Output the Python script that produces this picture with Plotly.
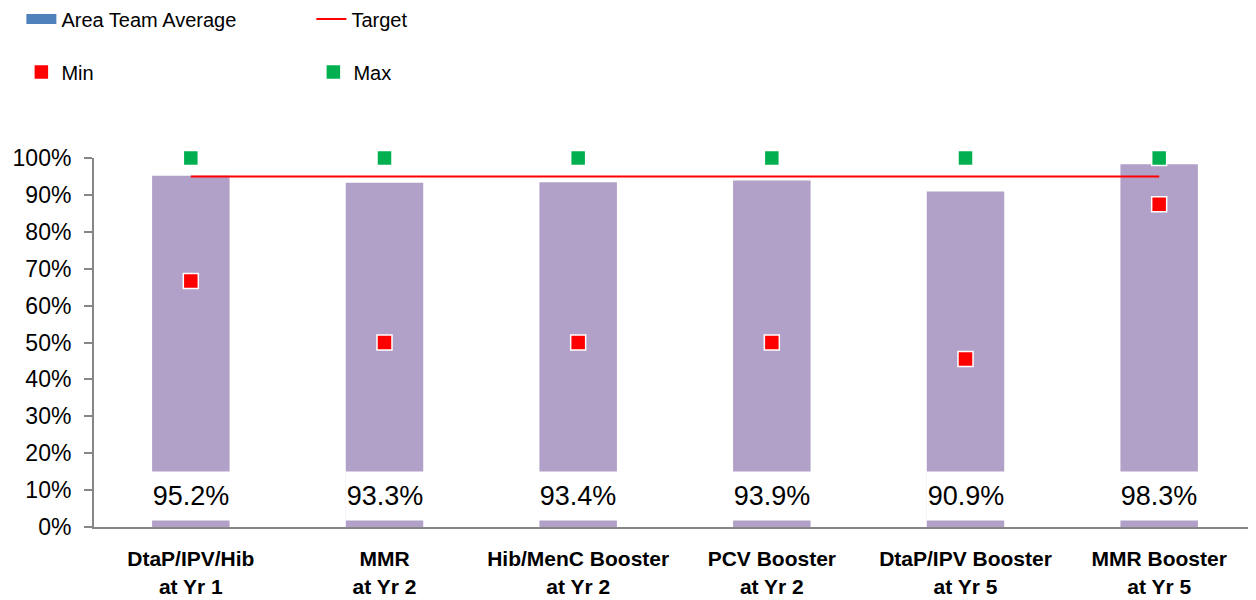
import plotly.graph_objects as go

categories = ["DtaP/IPV/Hib<br>at Yr 1", "MMR<br>at Yr 2", "Hib/MenC Booster<br>at Yr 2",
              "PCV Booster<br>at Yr 2", "DtaP/IPV Booster<br>at Yr 5", "MMR Booster<br>at Yr 5"]
area_avg = [95.2, 93.3, 93.4, 93.9, 90.9, 98.3]
target = [95, 95, 95, 95, 95, 95]
min_vals = [66.7, 50.0, 50.0, 50.0, 45.5, 87.5]
max_vals = [100, 100, 100, 100, 100, 100]
label_pos = [8.5] * 6
tick_vals = [0, 10, 20, 30, 40, 50, 60, 70, 80, 90, 100]
tick_text = [f"{v}%" for v in tick_vals]

FONT = "Liberation Sans"
BAR = "#B1A0C7"
BLUE = "#4F81BD"
RED = "#FF0000"
GREEN = "#00B050"

fig = go.Figure()

# Real bars (purple), hidden from legend
fig.add_trace(go.Bar(x=categories, y=area_avg, marker=dict(color=BAR, line=dict(width=0)),
                     width=0.4, showlegend=False, hoverinfo="y"))
# Legend entry for bars (blue swatch as in reference)
fig.add_trace(go.Scatter(x=categories, y=[None] * 6, name="Area Team Average", mode="lines",
                         line=dict(color=BLUE, width=11), legend="legend"))
fig.add_trace(go.Scatter(x=categories, y=target, name="Target", mode="lines",
                         line=dict(color=RED, width=2), legend="legend"))
fig.add_trace(go.Scatter(x=categories, y=min_vals, name="Min", mode="markers",
                         marker=dict(symbol="square", size=15, color=RED,
                                     line=dict(color="white", width=1.5)),
                         cliponaxis=False, legend="legend2"))
fig.add_trace(go.Scatter(x=categories, y=max_vals, name="Max", mode="markers",
                         marker=dict(symbol="square", size=15, color=GREEN,
                                     line=dict(color="white", width=1.5)),
                         cliponaxis=False, legend="legend2"))

for c, v, p in zip(categories, area_avg, label_pos):
    fig.add_annotation(x=c, y=p, xref="x", yref="y", text=f"{v:.1f}%", showarrow=False,
                       bgcolor="white", width=78, height=48, borderpad=0,
                       font=dict(family=FONT, size=27, color="#000000"))

fig.update_layout(
    width=1248, height=592,
    margin=dict(l=86, r=0, t=150, b=73, autoexpand=False),
    plot_bgcolor="white", paper_bgcolor="white",
    font=dict(family=FONT, color="#000000"),
    barmode="overlay",
    legend=dict(orientation="h", x=-0.0625, xanchor="left", y=1.377, yanchor="middle",
                entrywidth=245, font=dict(size=20, family=FONT), traceorder="normal",
                bgcolor="rgba(0,0,0,0)"),
    legend2=dict(orientation="h", x=-0.0625, xanchor="left", y=1.233, yanchor="middle",
                 entrywidth=247, font=dict(size=20, family=FONT), traceorder="normal",
                 bgcolor="rgba(0,0,0,0)"),
    xaxis=dict(showline=True, linecolor="#868686", linewidth=2, ticks="",
               tickfont=dict(size=21, family=FONT, color="#000000", weight="bold"),
               ticklabelstandoff=12, showgrid=False),
    yaxis=dict(range=[0, 100], tickvals=tick_vals, ticktext=tick_text,
               showline=True, linecolor="#868686", linewidth=2,
               ticks="outside", ticklen=8, tickcolor="#868686", tickwidth=1.5,
               tickfont=dict(size=23, family=FONT, color="#000000"),
               ticklabelstandoff=8,
               showgrid=False, zeroline=False),
)

fig.write_html("out.html")
